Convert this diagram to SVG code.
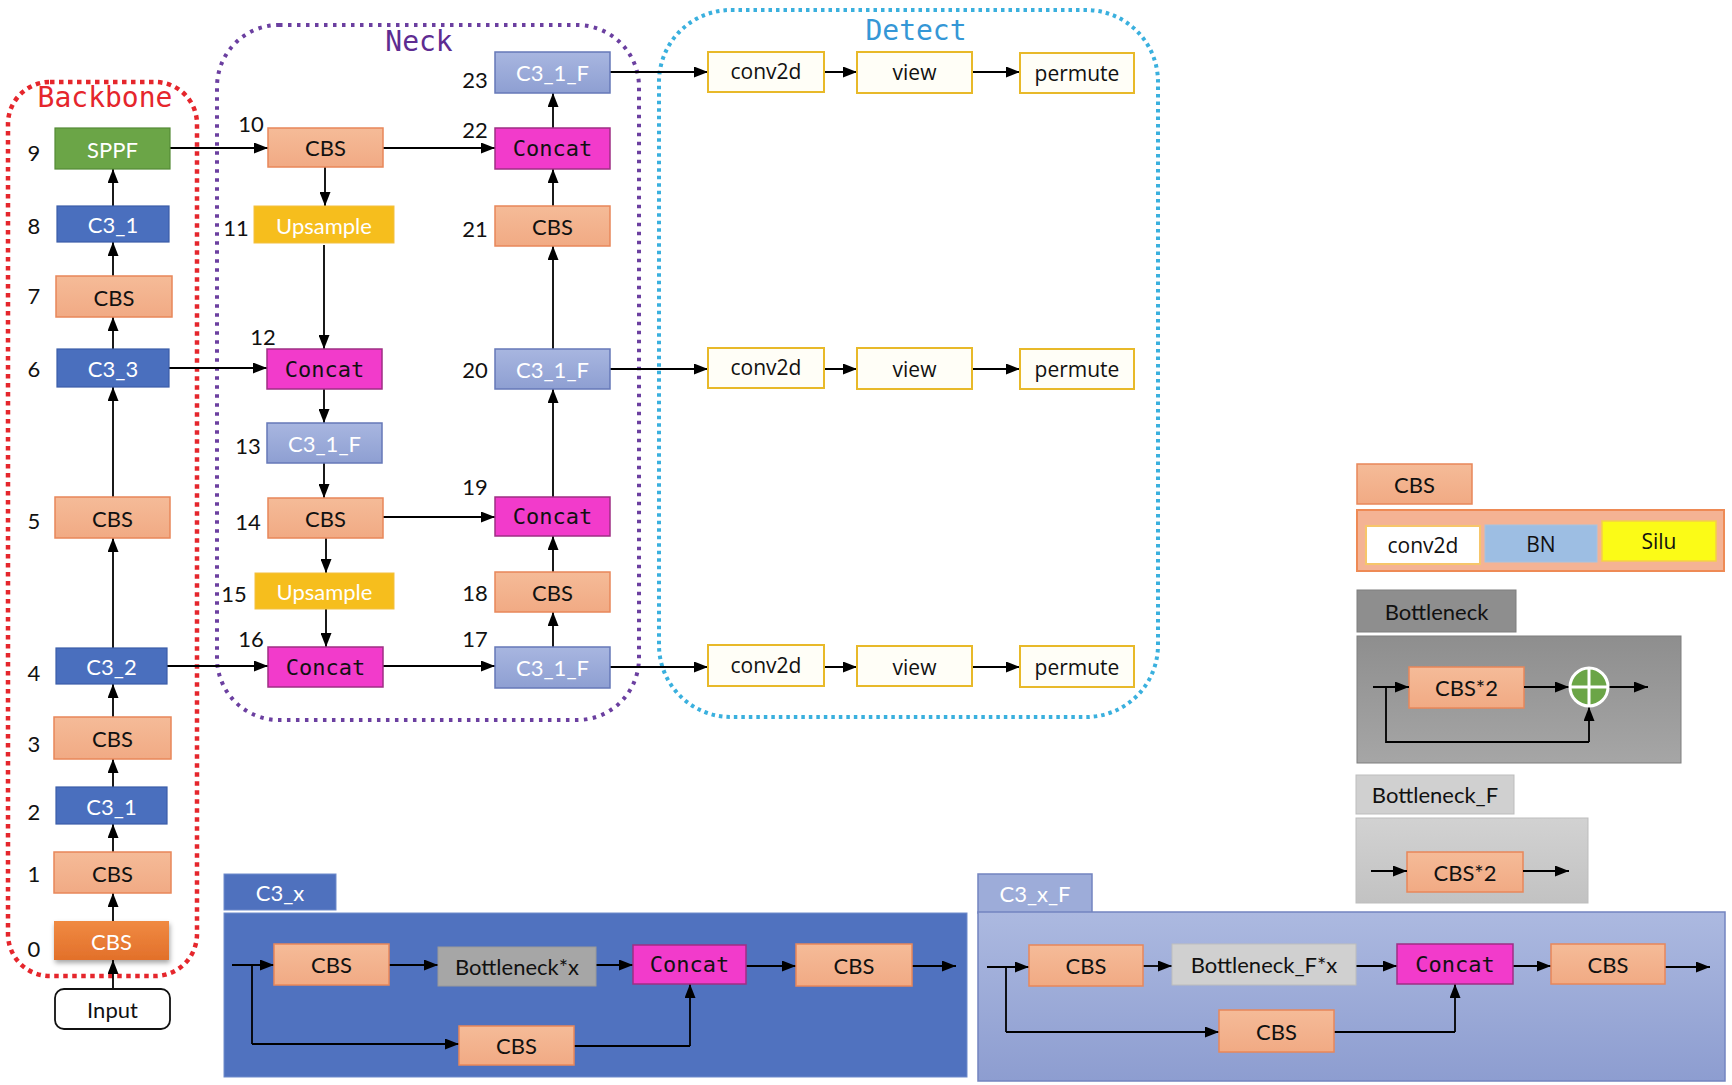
<svg xmlns="http://www.w3.org/2000/svg" width="1732" height="1085" viewBox="0 0 1732 1085">
<defs>
<style>
text{font-family:Lato,"Open Sans","Liberation Sans",sans-serif;font-size:22px;fill:#111;text-anchor:middle;dominant-baseline:central}
.num{font-size:22px;fill:#111}
.mono{font-family:"DejaVu Sans Mono","Liberation Mono",monospace}
.os{font-family:"Open Sans","Noto Sans",sans-serif;font-size:21px}
.w{fill:#fff}
.title{font-family:"DejaVu Sans Mono","Liberation Mono",monospace;font-size:28px}
.cbs{fill:url(#gCbs);stroke:#E8875A;stroke-width:1.5}
.c3{fill:#4A6FBE;stroke:#3B5DA8;stroke-width:1.2}
.c3f{fill:url(#gC3f);stroke:#6678B8;stroke-width:1.5}
.cat{fill:#F23BCB;stroke:#9E2F84;stroke-width:1.5}
.ups{fill:#F6BE1D;stroke:#F3C040;stroke-width:1}
.det{fill:#FFFEF7;stroke:#E8B929;stroke-width:2}
.ln{fill:none;stroke:#000;stroke-width:1.8}
.arr{fill:none;stroke:#000;stroke-width:1.8;marker-end:url(#ah)}
</style>
<linearGradient id="gCbs" x1="0" y1="0" x2="0" y2="1"><stop offset="0" stop-color="#F5BB98"/><stop offset="1" stop-color="#F1AA84"/></linearGradient>
<linearGradient id="gC3f" x1="0" y1="0" x2="0" y2="1"><stop offset="0" stop-color="#A8B6E0"/><stop offset="1" stop-color="#8E9FD2"/></linearGradient>
<linearGradient id="gCbs0" x1="0" y1="0" x2="0" y2="1"><stop offset="0" stop-color="#F08A42"/><stop offset="1" stop-color="#E2702A"/></linearGradient>
<linearGradient id="gPanF" x1="0" y1="0" x2="0" y2="1"><stop offset="0" stop-color="#ACB9E0"/><stop offset="1" stop-color="#8D9DD0"/></linearGradient>
<linearGradient id="gBot" x1="0" y1="0" x2="0" y2="1"><stop offset="0" stop-color="#8E8E8E"/><stop offset="1" stop-color="#A6A6A6"/></linearGradient>
<linearGradient id="gBotF" x1="0" y1="0" x2="0" y2="1"><stop offset="0" stop-color="#D2D2D2"/><stop offset="1" stop-color="#C2C2C2"/></linearGradient>
<filter id="sh" x="-10%" y="-20%" width="130%" height="160%"><feDropShadow dx="1" dy="3" stdDeviation="2.5" flood-color="#000" flood-opacity="0.35"/></filter>
<marker id="ah" viewBox="0 0 14 11" refX="14" refY="5.5" markerWidth="14" markerHeight="11" orient="auto" markerUnits="userSpaceOnUse"><path d="M0,0 L14,5.5 L0,11 z" fill="#000"/></marker>
</defs>
<rect width="1732" height="1085" fill="#fff"/>

<g id="regions">
<rect x="8" y="82" width="189" height="894" rx="42" fill="none" stroke="#E5262C" stroke-width="4.5" stroke-dasharray="4.5 4.5"/>
<text class="title" x="105" y="97" style="fill:#E5262C">Backbone</text>
<rect x="217" y="25" width="422" height="695" rx="62" fill="none" stroke="#6B3FA0" stroke-width="4" stroke-dasharray="3.5 5.5"/>
<text class="title" x="419" y="41" style="fill:#5E2C91">Neck</text>
<rect x="659" y="10" width="499" height="707" rx="72" fill="none" stroke="#3AB0DE" stroke-width="4" stroke-dasharray="3.5 4"/>
<text class="title" x="916" y="30" style="fill:#3597D6">Detect</text>
</g>

<g id="connectors">
<path class="arr" d="M113,989 V960"/>
<path class="arr" d="M113,921 V893"/>
<path class="arr" d="M113,852 V824"/>
<path class="arr" d="M113,787 V759"/>
<path class="arr" d="M113,717 V684"/>
<path class="arr" d="M113,648 V538"/>
<path class="arr" d="M113,497 V387"/>
<path class="arr" d="M113,349 V317"/>
<path class="arr" d="M113,276 V242"/>
<path class="arr" d="M113,206 V169"/>
<path class="arr" d="M170,148 H268"/>
<path class="arr" d="M383,148 H495"/>
<path class="arr" d="M325,167 V206"/>
<path class="arr" d="M324,245 V349"/>
<path class="arr" d="M169,368 H267"/>
<path class="arr" d="M324,389 V423"/>
<path class="arr" d="M324,463 V498"/>
<path class="arr" d="M326,538 V573"/>
<path class="arr" d="M326,609 V647"/>
<path class="arr" d="M167,666 H268"/>
<path class="arr" d="M383,666 H495"/>
<path class="arr" d="M553,647 V612"/>
<path class="arr" d="M553,572 V536"/>
<path class="arr" d="M383,517 H495"/>
<path class="arr" d="M553,497 V389"/>
<path class="arr" d="M553,349 V246"/>
<path class="arr" d="M553,206 V169"/>
<path class="arr" d="M553,128 V93"/>
<path class="arr" d="M610,72 H708"/>
<path class="arr" d="M610,369 H708"/>
<path class="arr" d="M610,667 H708"/>
<path class="arr" d="M824,72 H857"/>
<path class="arr" d="M972,72 H1020"/>
<path class="arr" d="M824,369 H857"/>
<path class="arr" d="M972,369 H1020"/>
<path class="arr" d="M824,667 H857"/>
<path class="arr" d="M972,667 H1020"/>
</g>

<g id="n0"><rect x="54" y="921" width="115" height="39" fill="url(#gCbs0)" filter="url(#sh)"/><text x="111.5" y="941" style="fill:#fff">CBS</text><text class="num" x="34" y="948">0</text></g>
<g id="n1"><rect class="cbs" x="54" y="852" width="117" height="41"/><text x="112.5" y="873">CBS</text><text class="num" x="34" y="873">1</text></g>
<g id="n2"><rect class="c3" x="56" y="787" width="111" height="37"/><text x="111.5" y="806" style="fill:#fff">C3_1</text><text class="num" x="34" y="811">2</text></g>
<g id="n3"><rect class="cbs" x="54" y="717" width="117" height="42"/><text x="112.5" y="738">CBS</text><text class="num" x="34" y="743">3</text></g>
<g id="n4"><rect class="c3" x="56" y="648" width="111" height="36"/><text x="111.5" y="666" style="fill:#fff">C3_2</text><text class="num" x="34" y="672">4</text></g>
<g id="n5"><rect class="cbs" x="55" y="497" width="115" height="41"/><text x="112.5" y="518">CBS</text><text class="num" x="34" y="520">5</text></g>
<g id="n6"><rect class="c3" x="57" y="349" width="112" height="38"/><text x="113" y="368" style="fill:#fff">C3_3</text><text class="num" x="34" y="368">6</text></g>
<g id="n7"><rect class="cbs" x="56" y="276" width="116" height="41"/><text x="114" y="297">CBS</text><text class="num" x="34" y="295">7</text></g>
<g id="n8"><rect class="c3" x="57" y="206" width="112" height="36"/><text x="113" y="224" style="fill:#fff">C3_1</text><text class="num" x="34" y="225">8</text></g>
<g id="n9"><rect x="55" y="128" width="115" height="41" fill="#6BA547" stroke="#548A36" stroke-width="1.2"/><text x="112.5" y="149" style="fill:#fff">SPPF</text><text class="num" x="34" y="152">9</text></g>
<g id="input"><rect x="55" y="989" width="115" height="40" rx="9" fill="#fff" stroke="#111" stroke-width="1.8"/><text x="112.5" y="1009">Input</text></g>

<g id="n10"><rect class="cbs" x="268" y="128" width="115" height="39"/><text x="325.5" y="147.5">CBS</text><text class="num" x="251" y="123">10</text></g>
<g id="n11"><rect class="ups" x="254" y="206" width="140" height="37"/><text x="324" y="225" style="fill:#fff">Upsample</text><text class="num" x="236" y="227">11</text></g>
<g id="n12"><rect class="cat" x="267" y="349" width="115" height="40"/><text class="mono" x="324.5" y="369">Concat</text><text class="num" x="263" y="336">12</text></g>
<g id="n13"><rect class="c3f" x="267" y="423" width="115" height="40"/><text x="324.5" y="443" style="fill:#fff">C3_1_F</text><text class="num" x="248" y="445">13</text></g>
<g id="n14"><rect class="cbs" x="268" y="498" width="115" height="40"/><text x="325.5" y="518">CBS</text><text class="num" x="248" y="521">14</text></g>
<g id="n15"><rect class="ups" x="255" y="573" width="139" height="36"/><text x="324.5" y="591" style="fill:#fff">Upsample</text><text class="num" x="234" y="593">15</text></g>
<g id="n16"><rect class="cat" x="268" y="647" width="115" height="40"/><text class="mono" x="325.5" y="667">Concat</text><text class="num" x="251" y="638">16</text></g>
<g id="n17"><rect class="c3f" x="495" y="647" width="115" height="41"/><text x="552.5" y="667.5" style="fill:#fff">C3_1_F</text><text class="num" x="475" y="638">17</text></g>
<g id="n18"><rect class="cbs" x="495" y="572" width="115" height="40"/><text x="552.5" y="592">CBS</text><text class="num" x="475" y="592">18</text></g>
<g id="n19"><rect class="cat" x="495" y="497" width="115" height="39"/><text class="mono" x="552.5" y="516.5">Concat</text><text class="num" x="475" y="486">19</text></g>
<g id="n20"><rect class="c3f" x="495" y="349" width="115" height="40"/><text x="552.5" y="369" style="fill:#fff">C3_1_F</text><text class="num" x="475" y="369">20</text></g>
<g id="n21"><rect class="cbs" x="495" y="206" width="115" height="40"/><text x="552.5" y="226">CBS</text><text class="num" x="475" y="228">21</text></g>
<g id="n22"><rect class="cat" x="495" y="128" width="115" height="41"/><text class="mono" x="552.5" y="148.5">Concat</text><text class="num" x="475" y="129">22</text></g>
<g id="n23"><rect class="c3f" x="495" y="52" width="115" height="41"/><text x="552.5" y="72.5" style="fill:#fff">C3_1_F</text><text class="num" x="475" y="79">23</text></g>

<g id="det-top"><rect class="det" x="708" y="52" width="116" height="40"/><text class="os" x="766" y="71">conv2d</text><rect class="det" x="857" y="52" width="115" height="41"/><text class="os" x="914.5" y="72">view</text><rect class="det" x="1020" y="53" width="114" height="40"/><text class="os" x="1077" y="73">permute</text></g>
<g id="det-mid"><rect class="det" x="708" y="348" width="116" height="40"/><text class="os" x="766" y="367">conv2d</text><rect class="det" x="857" y="348" width="115" height="41"/><text class="os" x="914.5" y="369">view</text><rect class="det" x="1020" y="349" width="114" height="40"/><text class="os" x="1077" y="369">permute</text></g>
<g id="det-bot"><rect class="det" x="708" y="645" width="116" height="41"/><text class="os" x="766" y="665">conv2d</text><rect class="det" x="857" y="646" width="115" height="40"/><text class="os" x="914.5" y="667">view</text><rect class="det" x="1020" y="646" width="114" height="41"/><text class="os" x="1077" y="667">permute</text></g>

<g id="legend-cbs">
<rect class="cbs" x="1357" y="464" width="115" height="40"/><text x="1414.5" y="484">CBS</text>
<rect x="1357" y="510" width="367" height="61" fill="#F4B394" stroke="#EE8A55" stroke-width="2"/>
<rect x="1366" y="526" width="114" height="38" fill="#fff" stroke="#F6C66A" stroke-width="2"/><text class="os" x="1423" y="545">conv2d</text>
<rect x="1485" y="525" width="112" height="37" fill="#9DBEE3" stroke="#A9C3DE" stroke-width="1"/><text class="os" x="1541" y="543.5">BN</text>
<rect x="1602" y="521" width="114" height="40" fill="#FBFB17" stroke="#F4CF4A" stroke-width="1.5"/><text class="os" x="1659" y="541">Silu</text>
</g>
<g id="legend-bottleneck">
<rect x="1357" y="590" width="159" height="42" fill="#8E8E8E" stroke="#7E7E7E" stroke-width="1"/><text x="1436.5" y="611">Bottleneck</text>
<rect x="1357" y="636" width="324" height="127" fill="url(#gBot)" stroke="#7E7E7E" stroke-width="1"/>
<rect class="cbs" x="1409" y="667" width="115" height="41"/><text x="1466.5" y="687.5">CBS*2</text>
<path class="arr" d="M1373,687 H1409"/>
<path class="ln" d="M1386,687 V742 H1589"/>
<path class="arr" d="M1589,742 V707"/>
<path class="arr" d="M1524,687 H1569"/>
<path class="arr" d="M1609,687 H1648"/>
<circle cx="1589" cy="687" r="19" fill="#6BA547" stroke="#fff" stroke-width="3"/>
<path d="M1589,668 V706 M1570,687 H1608" stroke="#fff" stroke-width="3"/>
</g>
<g id="legend-bottleneck-f">
<rect x="1356" y="775" width="158" height="39" fill="#D0D0D0" stroke="#BDBDBD" stroke-width="1"/><text x="1435" y="794.5">Bottleneck_F</text>
<rect x="1356" y="818" width="232" height="85" fill="url(#gBotF)" stroke="#BDBDBD" stroke-width="1"/>
<rect class="cbs" x="1407" y="852" width="116" height="40"/><text x="1465" y="872">CBS*2</text>
<path class="arr" d="M1371,871 H1407"/>
<path class="arr" d="M1523,871 H1569"/>
</g>

<g id="panel-c3x">
<rect x="224" y="874" width="112" height="36" fill="#4F71BE" stroke="#6F8BCB" stroke-width="1"/><text x="280" y="892" style="fill:#fff">C3_x</text>
<rect x="224" y="913" width="743" height="164" fill="#5072BF" stroke="#6F8BCB" stroke-width="1"/>
<path class="arr" d="M232,965 H274"/>
<path class="ln" d="M252,965 V1044"/>
<path class="arr" d="M252,1044 H459"/>
<path class="ln" d="M574,1046 H690"/>
<path class="arr" d="M690,1046 V984"/>
<path class="arr" d="M389,965 H438"/>
<path class="arr" d="M596,965 H633"/>
<path class="arr" d="M746,966 H796"/>
<path class="arr" d="M912,966 H956"/>
<rect class="cbs" x="274" y="944" width="115" height="41"/><text x="331.5" y="964.5">CBS</text>
<rect x="438" y="947" width="158" height="39" fill="#A6A6A6" stroke="#999" stroke-width="1"/><text x="517" y="966.5">Bottleneck*x</text>
<rect class="cat" x="633" y="945" width="113" height="39"/><text class="mono" x="689.5" y="964.5">Concat</text>
<rect class="cbs" x="796" y="944" width="116" height="42"/><text x="854" y="965">CBS</text>
<rect class="cbs" x="459" y="1026" width="115" height="39"/><text x="516.5" y="1045.5">CBS</text>
</g>

<g id="panel-c3xf">
<rect x="978" y="874" width="114" height="39" fill="#9DACD9" stroke="#7384C0" stroke-width="1.5"/><text x="1035" y="893.5" style="fill:#fff">C3_x_F</text>
<rect x="978" y="912" width="747" height="169" fill="url(#gPanF)" stroke="#7384C0" stroke-width="1.5"/>
<path class="arr" d="M987,967 H1029"/>
<path class="ln" d="M1006,967 V1032"/>
<path class="arr" d="M1006,1032 H1219"/>
<path class="ln" d="M1334,1032 H1455"/>
<path class="arr" d="M1455,1032 V984"/>
<path class="arr" d="M1143,966 H1172"/>
<path class="arr" d="M1356,966 H1397"/>
<path class="arr" d="M1513,966 H1551"/>
<path class="arr" d="M1665,967 H1710"/>
<rect class="cbs" x="1029" y="945" width="114" height="41"/><text x="1086" y="965.5">CBS</text>
<rect x="1172" y="944" width="184" height="41" fill="#D0D0D0" stroke="#BDBDBD" stroke-width="1"/><text x="1264" y="964.5">Bottleneck_F*x</text>
<rect class="cat" x="1397" y="944" width="116" height="40"/><text class="mono" x="1455" y="964">Concat</text>
<rect class="cbs" x="1551" y="944" width="114" height="40"/><text x="1608" y="964">CBS</text>
<rect class="cbs" x="1219" y="1010" width="115" height="42"/><text x="1276.5" y="1031">CBS</text>
</g>
</svg>
